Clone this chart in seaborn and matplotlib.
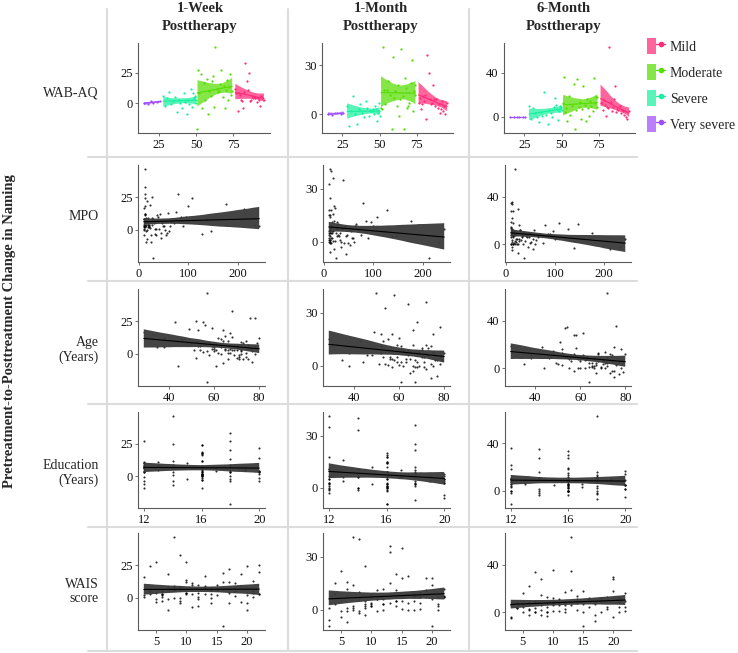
import numpy as np
import pandas as pd
import seaborn as sns
import matplotlib
matplotlib.use("Agg")
import matplotlib.pyplot as plt
from matplotlib.lines import Line2D
from matplotlib.patches import Patch
from matplotlib.collections import PolyCollection
from matplotlib.legend_handler import HandlerTuple

# ---------------- data (one entry per participant) ----------------
wab = [15.2, 17.6, 19.8, 21.4, 23.9, 25.6,
       28.1, 29.4, 30.7, 32.0, 33.4, 34.6, 35.9, 37.1, 38.3, 39.5, 40.6, 41.8,
       42.9, 43.8, 44.7, 45.6, 46.4, 47.2, 47.9, 48.5, 49.0, 49.4, 49.8, 50.0,
       51.0, 51.5, 52.3, 53.2, 54.0, 55.1, 56.0, 57.2, 58.1, 59.0, 59.8, 60.7,
       61.5, 62.3, 63.0, 63.8, 64.6, 65.5, 66.3, 67.0, 67.8, 68.5, 69.3, 70.1,
       70.9, 71.6, 72.3, 73.0, 73.6, 74.2,
       76.3, 77.0, 77.8, 78.5, 79.2, 80.0, 80.8, 81.6, 82.3, 83.1, 83.8, 84.6,
       85.3, 86.1, 86.8, 87.6, 88.3, 89.1, 89.8, 90.6, 91.3, 92.0, 92.8, 93.5,
       94.3, 95.5]
mpo = [11, 14, 22, 10, 35, 18,
       12, 45, 11, 26, 60, 13, 30, 17, 12, 52, 24, 11, 40, 14, 90, 146, 13, 33,
       138, 21, 12, 70, 16, 48,
       28, 12, 12, 13, 55, 11, 20, 176, 25, 38, 65, 13, 17, 127, 12, 42, 14, 95,
       212, 80, 19, 75, 11, 36, 23, 10, 58, 108, 15, 85,
       12, 29, 44, 11, 16, 50, 21, 34, 18, 12, 100, 13, 26, 11, 62, 15, 14, 47,
       19, 32, 27, 12, 56, 24, 232, 243]
age = [62, 71, 55, 78, 66, 60,
       53, 74, 59, 52, 69, 77, 35, 64, 51, 72, 75, 56, 67, 44, 61, 58, 38, 70,
       79, 65, 54, 38, 63, 68,
       57, 76, 50, 55, 73, 29, 66, 59, 61, 64, 70, 53, 56, 52, 57, 62, 58, 74,
       67, 78, 60, 65, 71, 63, 49, 54, 68, 43, 75, 66,
       80, 73, 77, 48, 61, 69, 72, 66, 72, 68, 64, 46, 52, 57, 70, 78, 60, 63,
       76, 74, 67, 65, 71, 59, 75, 72]
education = [16, 12, 16, 18, 14, 16,
             12, 18, 18, 12, 16, 20, 16, 14, 12, 16, 18, 13, 16, 12, 16, 20, 14,
             16, 18, 20, 16, 19, 16, 12,
             18, 12, 12, 16, 14, 16, 16, 18, 16, 12, 17, 16, 20, 16, 14, 16, 14,
             12, 16, 18, 13, 20, 20, 12, 16, 14, 18, 16, 12, 15,
             16, 18, 12, 16, 14, 20, 16, 12, 18, 18, 16, 13, 14, 16, 18, 12, 16,
             19, 17, 16, 20, 18, 15, 16, 12, 20]
wais = [12, 5, 18, 9, 21, 15,
        14, 6, 10, 19, 7, 3, 4, 11, 6, 8, 17, 13, 6, 7, 10, 12, 16, 5, 9,
        5, 7, 21, 14, 11,
        16, 10, 7, 4, 20, 13, 14, 22, 20, 15, 8, 7, 17, 19, 8, 17, 8, 11, 3, 5,
        6, 10, 14, 18, 16, 13, 21, 20, 15, 12,
        10, 18, 12, 8, 14, 22, 6, 9, 13, 9, 19, 11, 22, 20, 4, 15, 10, 18, 12,
        3, 21, 6, 9, 9, 17, 22]
change_1week = [0.5, -0.5, 1.5, 0.0, 0.8, 2.0,
                6, -2, 4, 9, -1, 2, 5, -7, 3, 0, -4, 8, 1, -9, 3, -1, 12, -3,
                8, 4, 6, 5, 0, 3,
                -21, 27, 8, 24, -4, 17, 3, 20, -9, 10, 6, 18, 22, -3, 46, 12,
                9, 10, 16, 27, 5, 14, -4, 11, 19, 3, 13, 24, 7, 10,
                12, 8, -6, 8, 7, 3, 2, -4, 9, 33, 18, 11, 25, 2, 3, 6, 4, 5, 4,
                1, 4, 3, -2, 6, 4, 3]
change_1month = [0, -0.5, 0.5, 1, 0, 0.5,
                 5, -7, 2, 11, 0, -6, 3, 6, 1, -2, 8, 4, -1, 2, 2, 3, 0, 5,
                 3, -4, 1, 7, 2, -1,
                 4, 3, 41, 15, 6, 15, 20, 12, -9, 35, 10, 14, 5, 18, -1, 9, 40,
                 11, -9, 22, 16, 4, 5, 7, 19, 33, 2, 14, 18, 12,
                 7, 10, 3, 6, 11, 8, 12, -3, 36, 25, 9, 6, 7, 18, 9, 5, 9, 4,
                 6, 1, 3, 8, 2, 5, 0, 7]
change_6month = [0, 0, 0, 0, 0, 0,
                 10, -2, 8, 3, 0, -5, 4, 1, 22, 2, -7, 6, 3, 0, 9, 17, 11, 7,
                 -3, 5, 10, 9, 8, 6,
                 12, 36, 4, 8, -4, 19, 2, 10, 30, -11, 6, 34, 9, 13, -2, 7, 28,
                 11, -4, 16, 8, 1, 14, 10, 5, 35, 12, 18, 18, 9,
                 12, 12, 6, 15, 11, 1, 9, 8, 63, 13, 5, 9, 16, 28, 4, 7, 6,
                 10, 3, 6, 5, 2, 5, 0, -2, 5]

severity_levels = ["Mild", "Moderate", "Severe", "Very severe"]
severity_bins = [0, 26, 50.5, 75, 100]
severity_colors = {"Mild": "#FF2A78", "Moderate": "#55DD00",
                   "Severe": "#18F0A0", "Very severe": "#A04CFF"}

row_vars = ["wab", "mpo", "age", "edu", "wais"]
row_labels = ["WAB-AQ", "MPO", "Age\n(Years)", "Education\n(Years)", "WAIS\nscore"]
col_vars = ["week1", "month1", "month6"]
col_titles = ["1-Week\nPosttherapy", "1-Month\nPosttherapy", "6-Month\nPosttherapy"]
x_tick_vals = {"wab": [25, 50, 75], "mpo": [0, 100, 200], "age": [40, 60, 80],
               "edu": [12, 16, 20], "wais": [5, 10, 15, 20]}
y_tick_vals = {"week1": [0, 25], "month1": [0, 30], "month6": [0, 40]}

df = pd.DataFrame({"wab": wab, "mpo": mpo, "age": age, "edu": education,
                   "wais": wais, "week1": change_1week,
                   "month1": change_1month, "month6": change_6month})
df["severity"] = pd.cut(df["wab"], bins=severity_bins,
                        labels=["Very severe", "Severe", "Moderate", "Mild"])

# ---------------- style ----------------
sns.set_theme(style="white")
plt.rcParams["font.family"] = ["Liberation Serif", "DejaVu Serif"]
AXC = "#5a5a5a"
GRIDC = "#DCDCDC"

W, H = 738, 653
fig = plt.figure(figsize=(W / 100, H / 100), dpi=100)


def px_axes(l, t, r, b):
    return fig.add_axes([l / W, 1 - b / H, (r - l) / W, (b - t) / H])


row_tb = [(43, 133), (165, 262), (289, 386), (412, 508), (533, 630)]
col_lr_first = [(138, 270), (322, 453), (504, 635)]
col_lr = [(138, 265), (323, 450), (505, 631)]


def set_limits(ax, xv, yv):
    xs = df[xv]
    ys = df[yv]
    dx = xs.max() - xs.min()
    dy = ys.max() - ys.min()
    ax.set_xlim(xs.min() - 0.05 * dx, xs.max() + 0.05 * dx)
    ax.set_ylim(ys.min() - 0.05 * dy, ys.max() + 0.05 * dy)


for i, xv in enumerate(row_vars):
    for j, yv in enumerate(col_vars):
        t, b = row_tb[i]
        l, r = (col_lr_first if i == 0 else col_lr)[j]
        ax = px_axes(l, t, r, b)
        if i == 0:
            for sev in severity_levels[::-1]:
                sub = df[df["severity"] == sev]
                c = severity_colors[sev]
                n0 = len(ax.collections)
                sns.regplot(data=sub, x=xv, y=yv, ax=ax, color=c, seed=0,
                            truncate=True,
                            scatter_kws=dict(s=2.6, linewidths=0, alpha=1),
                            line_kws=dict(lw=0.8))
                for coll in ax.collections[n0:]:
                    if isinstance(coll, PolyCollection):
                        coll.set_alpha(0.72)
                        coll.set_edgecolor("none")
        else:
            n0 = len(ax.collections)
            sns.regplot(data=df, x=xv, y=yv, ax=ax, color="black", seed=0,
                        truncate=True,
                        scatter_kws=dict(s=2.4, linewidths=0),
                        line_kws=dict(lw=0.8, color="black"))
            for coll in ax.collections[n0:]:
                if isinstance(coll, PolyCollection):
                    coll.set_facecolor("#3a3a3a")
                    coll.set_alpha(0.95)
                    coll.set_edgecolor("none")
        set_limits(ax, xv, yv)
        ax.set_xticks(x_tick_vals[xv])
        ax.set_yticks(y_tick_vals[yv])
        ax.set_xlabel("")
        ax.set_ylabel("")
        sns.despine(ax=ax)
        for s in ("left", "bottom"):
            ax.spines[s].set_color(AXC)
            ax.spines[s].set_linewidth(0.8)
        ax.tick_params(axis="both", direction="out", length=2.5, width=0.6,
                       color=AXC, labelsize=9, labelcolor="#111111", pad=1.5,
                       bottom=True, left=True)
        ax.set_facecolor("none")

# ---------------- table grid lines ----------------
for x in (107, 288, 469):
    fig.add_artist(Line2D([x / W, x / W], [1 - 9 / H, 1 - 651 / H],
                          color=GRIDC, lw=1.5))
for y in (157, 281, 404, 527, 651):
    fig.add_artist(Line2D([88 / W, 637 / W], [1 - y / H, 1 - y / H],
                          color=GRIDC, lw=1.5))

# ---------------- texts ----------------
for xc, title in zip((200, 381, 564), col_titles):
    fig.text(xc / W, 1 - 17.5 / H, title, ha="center", va="center",
             fontsize=10.5, fontweight="bold", linespacing=1.5)

for yc, lab in zip((93, 217, 350, 473, 592), row_labels):
    fig.text(99 / W, 1 - yc / H, lab, ha="right", va="center", fontsize=10,
             multialignment="right", linespacing=1.1)

fig.text(10 / W, 1 - 331 / H, "Pretreatment-to-Posttreatment Change in Naming",
         rotation=90, ha="center", va="center", fontsize=10.5,
         fontweight="bold")

# ---------------- legend ----------------
handles = [(Patch(facecolor=severity_colors[s], alpha=0.72, edgecolor="none"),
            Line2D([], [], color=severity_colors[s], lw=1, marker="o",
                   markersize=3))
           for s in severity_levels]
fig.legend(handles, severity_levels, loc="upper left",
           bbox_to_anchor=(647 / W, 1 - 38 / H), frameon=False, fontsize=10,
           handlelength=1.3, handleheight=1.4, labelspacing=0.72,
           handletextpad=0.35, borderpad=0, borderaxespad=0,
           handler_map={tuple: HandlerTuple(ndivide=None)})

fig.savefig("out.png", dpi=100, facecolor="white")
